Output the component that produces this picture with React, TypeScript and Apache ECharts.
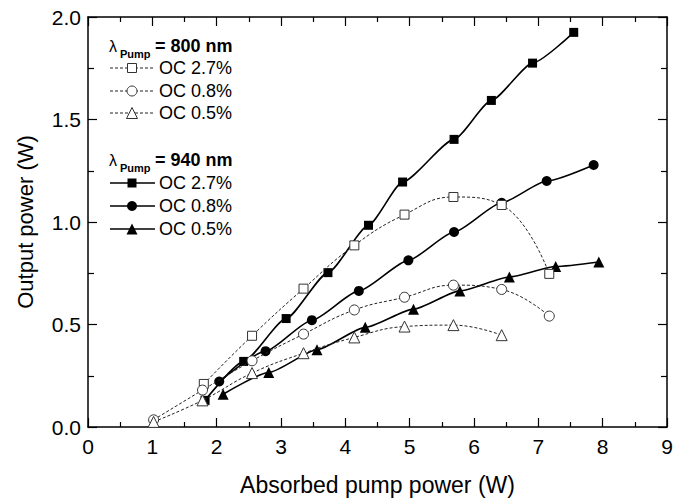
import React, { useEffect, useRef } from "react";
import * as echarts from "echarts";

const xTickLabels = ["0", "1", "2", "3", "4", "5", "6", "7", "8", "9"];
const yTickLabels = ["0.0", "0.5", "1.0", "1.5", "2.0"];

const p800_oc27_x = [1.8, 2.55, 3.35, 4.14, 4.92, 5.68, 6.43, 7.17];
const p800_oc27_y = [0.21, 0.445, 0.675, 0.886, 1.036, 1.122, 1.083, 0.747];
const p800_oc08_x = [1.02, 1.78, 2.55, 3.35, 4.14, 4.92, 5.68, 6.43, 7.17];
const p800_oc08_y = [0.035, 0.18, 0.323, 0.453, 0.571, 0.633, 0.692, 0.671, 0.541];
const p800_oc05_x = [1.02, 1.78, 2.55, 3.35, 4.14, 4.92, 5.68, 6.43];
const p800_oc05_y = [0.025, 0.13, 0.263, 0.36, 0.437, 0.49, 0.497, 0.448];

const p940_oc27_x = [1.82, 2.42, 3.08, 3.73, 4.36, 4.89, 5.69, 6.27, 6.91, 7.55];
const p940_oc27_y = [0.13, 0.32, 0.529, 0.753, 0.984, 1.195, 1.403, 1.593, 1.775, 1.925];
const p940_oc08_x = [2.04, 2.76, 3.48, 4.21, 4.98, 5.69, 6.43, 7.13, 7.86];
const p940_oc08_y = [0.222, 0.37, 0.521, 0.664, 0.813, 0.951, 1.094, 1.2, 1.278];
const p940_oc05_x = [2.1, 2.81, 3.56, 4.31, 5.06, 5.78, 6.55, 7.27, 7.94];
const p940_oc05_y = [0.16, 0.266, 0.377, 0.486, 0.575, 0.664, 0.732, 0.783, 0.805];

const ocLabels = ["OC 2.7%", "OC 0.8%", "OC 0.5%"];
const headerLabels = ["= 800 nm", "= 940 nm"];

const FONT = "'Liberation Sans', Arial, Helvetica, sans-serif";

const zip = (xs: number[], ys: number[]) => xs.map((x, i) => [x, ys[i]]);

export default function App() {
  const ref = useRef<HTMLDivElement>(null);
  useEffect(() => {
    if (!ref.current) return;
    const chart = echarts.init(ref.current, null, { renderer: "svg" });

    const symbols = ["rect", "circle", "triangle"];
    const openSeries = [
      zip(p800_oc27_x, p800_oc27_y),
      zip(p800_oc08_x, p800_oc08_y),
      zip(p800_oc05_x, p800_oc05_y),
    ];
    const filledSeries = [
      zip(p940_oc27_x, p940_oc27_y),
      zip(p940_oc08_x, p940_oc08_y),
      zip(p940_oc05_x, p940_oc05_y),
    ];
    const symSizeOpen = [9, 10, 11];
    const symSizeFilled = [9, 10, 11];

    const series: any[] = [];
    filledSeries.forEach((d, i) => {
      series.push({
        type: "line",
        name: "940 " + ocLabels[i],
        data: d,
        smooth: 0.2,
        smoothMonotone: "x",
        symbol: symbols[i],
        symbolSize: symSizeFilled[i],
        lineStyle: { color: "#000", width: 1.6 },
        itemStyle: { color: "#000", borderColor: "#000", borderWidth: 0 },
        z: 3,
      });
    });
    openSeries.forEach((d, i) => {
      series.push({
        type: "line",
        name: "800 " + ocLabels[i],
        data: d,
        smooth: 0.45,
        symbol: symbols[i],
        symbolSize: symSizeOpen[i],
        lineStyle: { color: "#222", width: 1, type: [3, 2] },
        itemStyle: { color: "#fff", borderColor: "#333", borderWidth: 1 },
        z: 4,
      });
    });

    const graphic: any[] = [];
    const lx0 = 110, lx1 = 155, mx = 132, tx = 159;
    const headerY = [46, 160];
    const rowY = [[68, 91, 113], [183, 206, 229]];
    headerY.forEach((hy, g) => {
      graphic.push({
        type: "text", x: 109, y: hy, style: { text: "λ", font: `16px ${FONT}`, fill: "#000", verticalAlign: "middle" },
      });
      graphic.push({
        type: "text", x: 120, y: hy + 8, style: { text: "Pump", font: `bold 11px ${FONT}`, fill: "#000", verticalAlign: "middle" },
      });
      graphic.push({
        type: "text", x: 155, y: hy, style: { text: headerLabels[g], font: `bold 18px ${FONT}`, fill: "#000", verticalAlign: "middle" },
      });
      rowY[g].forEach((ry, i) => {
        const open = g === 0;
        graphic.push({
          type: "line",
          shape: { x1: lx0, y1: ry, x2: lx1, y2: ry },
          style: open ? { stroke: "#222", lineWidth: 1, lineDash: [3, 2] } : { stroke: "#000", lineWidth: 1.6 },
        });
        const fill = open ? "#fff" : "#000";
        const stroke = open ? "#333" : "#000";
        if (i === 0) {
          const s = 9;
          graphic.push({ type: "rect", shape: { x: mx - s / 2, y: ry - s / 2, width: s, height: s }, style: { fill, stroke, lineWidth: open ? 1 : 0 }, z: 10 });
        } else if (i === 1) {
          graphic.push({ type: "circle", shape: { cx: mx, cy: ry, r: 5 }, style: { fill, stroke, lineWidth: open ? 1 : 0 }, z: 10 });
        } else {
          const h = 11;
          graphic.push({
            type: "polygon",
            shape: { points: [[mx, ry - h / 2], [mx + h / 2, ry + h / 2], [mx - h / 2, ry + h / 2]] },
            style: { fill, stroke, lineWidth: open ? 1 : 0 },
            z: 10,
          });
        }
        graphic.push({
          type: "text", x: tx, y: ry, style: { text: ocLabels[i], font: `18px ${FONT}`, fill: "#000", verticalAlign: "middle" },
        });
      });
    });

    const axisCommon = {
      min: 0,
      axisLine: { show: true, onZero: false, lineStyle: { color: "#000", width: 1.5 } },
      splitLine: { show: false },
    };
    const tickStyle = { color: "#000", width: 1.2 };

    chart.setOption({
      animation: false,
      backgroundColor: "#fff",
      textStyle: { fontFamily: FONT },
      grid: { left: 88, right: 18, top: 17, bottom: 73, containLabel: false },
      xAxis: [
        {
          ...axisCommon,
          type: "value",
          max: 9,
          interval: 1,
          position: "bottom",
          axisTick: { show: true, inside: true, length: 9, lineStyle: tickStyle },
          minorTick: { show: true, splitNumber: 2, length: 5, lineStyle: tickStyle },
          axisLabel: {
            show: true, margin: 9, fontSize: 21, color: "#000", fontFamily: FONT,
            formatter: (v: number) => xTickLabels[Math.round(v)] ?? "",
          },
          name: "Absorbed pump power (W)",
          nameLocation: "middle",
          nameGap: 46,
          nameTextStyle: { fontSize: 23, color: "#000", fontFamily: FONT },
        },
        {
          ...axisCommon,
          type: "value",
          max: 9,
          interval: 1,
          position: "top",
          axisTick: { show: true, inside: true, length: 9, lineStyle: tickStyle },
          minorTick: { show: true, splitNumber: 2, length: 5, lineStyle: tickStyle },
          axisLabel: { show: false },
        },
      ],
      yAxis: [
        {
          ...axisCommon,
          type: "value",
          max: 2,
          interval: 0.5,
          position: "left",
          axisTick: { show: true, inside: true, length: 9, lineStyle: tickStyle },
          minorTick: { show: true, splitNumber: 2, length: 6, lineStyle: tickStyle },
          axisLabel: {
            show: true, margin: 7, fontSize: 21, color: "#000", fontFamily: FONT,
            formatter: (v: number) => yTickLabels[Math.round(v * 2)] ?? "",
          },
          name: "Output power (W)",
          nameLocation: "middle",
          nameGap: 52,
          nameTextStyle: { fontSize: 22, color: "#000", fontFamily: FONT },
        },
        {
          ...axisCommon,
          type: "value",
          max: 2,
          interval: 0.5,
          position: "right",
          axisTick: { show: true, inside: true, length: 9, lineStyle: tickStyle },
          minorTick: { show: true, splitNumber: 2, length: 6, lineStyle: tickStyle },
          axisLabel: { show: false },
        },
      ],
      graphic,
      series,
    });
    return () => chart.dispose();
  }, []);
  return <div ref={ref} style={{ width: 685, height: 501, position: "absolute", left: 0, top: 0 }} />;
}
